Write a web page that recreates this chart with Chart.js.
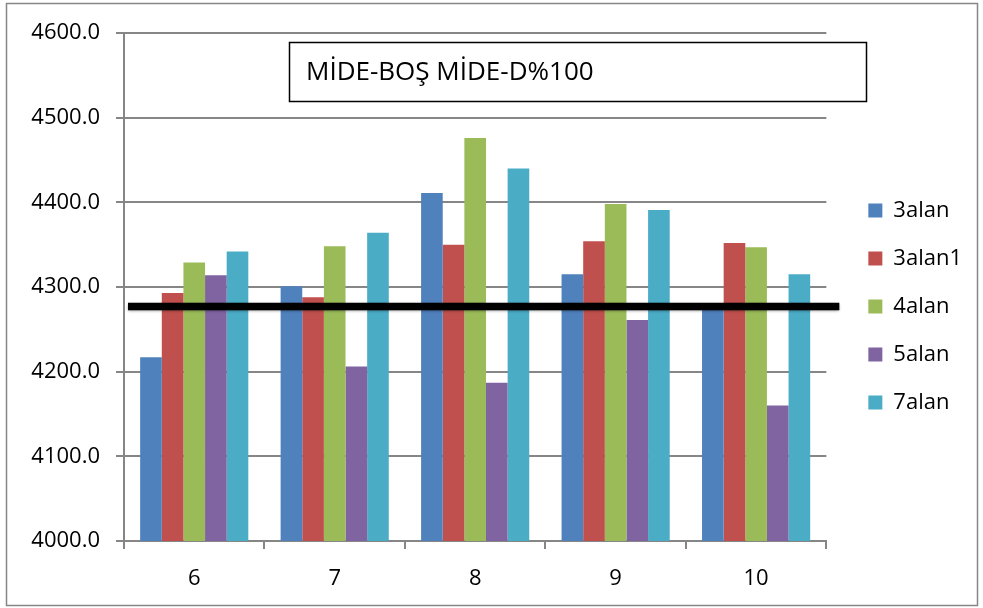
<!DOCTYPE html>
<html>
<head>
<meta charset="utf-8">
<script src="https://cdn.jsdelivr.net/npm/chart.js@4.4.1/dist/chart.umd.min.js"></script>
<style>
  html,body{margin:0;padding:0;background:#fff;}
  #wrap{width:983px;height:608px;position:relative;}
</style>
</head>
<body>
<div id="wrap"><canvas id="myChart" width="983" height="608"></canvas></div>
<script>
var categories = ['6','7','8','9','10'];
var seriesNames = ['3alan','3alan1','4alan','5alan','7alan'];
var alan3  = [4217, 4301, 4411, 4315, 4275];
var alan31 = [4293, 4288, 4350, 4354, 4352];
var alan4  = [4329, 4348, 4476, 4398, 4347];
var alan5  = [4314, 4206, 4187, 4261, 4160];
var alan7  = [4342, 4364, 4440, 4391, 4315];
var refLine = [4277];
var titleText = 'MİDE-BOŞ MİDE-D%100';
var colors = ['#4F81BD','#C0504D','#9BBB59','#8064A2','#4BACC6'];

var FONT = '"Open Sans", "Liberation Sans", sans-serif';

var values = [alan3, alan31, alan4, alan5, alan7];
var datasets = [];
for(var i=0;i<values.length;i++){
    datasets.push({
        label: seriesNames[i],
        data: values[i],
        backgroundColor: colors[i],
        borderWidth: 0,
        categoryPercentage: 0.77,
        barPercentage: 1.0
    });
}

// frame around whole chart, black reference line and the title box
var extras = {
    id: 'extras',
    beforeDraw: function(chart){
        var c = chart.ctx;
        c.save();
        c.fillStyle = '#fff';
        c.fillRect(0,0,chart.width,chart.height);
        c.strokeStyle = '#868686';
        c.lineWidth = 1.5;
        c.strokeRect(6.5,3.5,971,602);
        c.restore();
    },
    afterDatasetsDraw: function(chart){
        var c = chart.ctx;
        var a = chart.chartArea;
        var y = chart.scales.y.getPixelForValue(refLine[0]);
        c.save();
        c.shadowColor = 'rgba(0,0,0,0.5)';
        c.shadowBlur = 3;
        c.shadowOffsetY = 1;
        c.strokeStyle = '#000';
        c.lineWidth = 7.5;
        c.beginPath();
        c.moveTo(a.left+4, y);
        c.lineTo(a.right+13, y);
        c.stroke();
        c.restore();

        c.save();
        c.fillStyle = '#fff';
        c.fillRect(289,42,577,59);
        c.strokeStyle = '#000';
        c.lineWidth = 1.5;
        c.strokeRect(289.5,42.5,577,59);
        c.fillStyle = '#000';
        c.font = '26px ' + FONT;
        c.textBaseline = 'middle';
        c.fillText(titleText, 306, 73);
        c.restore();
    }
};

var ctx = document.getElementById('myChart').getContext('2d');
var myChart = new Chart(ctx, {
    type: 'bar',
    data: { labels: categories, datasets: datasets },
    plugins: [extras],
    options: {
        responsive: false,
        animation: false,
        layout: { padding: { top: 5, left: 0, right: 11, bottom: 0 } },
        plugins: {
            tooltip: { enabled: false },
            legend: {
                position: 'right',
                labels: {
                    boxWidth: 14,
                    boxHeight: 14,
                    padding: 26,
                    color: '#000',
                    font: { family: FONT, size: 22 }
                }
            }
        },
        scales: {
            x: {
                afterFit: function(s){ s.height = 67; },
                grid: { drawOnChartArea: false, drawTicks: true, tickLength: 8, offset: true, color: '#868686', lineWidth: 2 },
                border: { color: '#868686', width: 2 },
                ticks: { color: '#000', font: { family: FONT, size: 22 }, padding: 17 }
            },
            y: {
                min: 4000, max: 4600,
                afterFit: function(s){ s.width = 124; },
                grid: { color: '#868686', lineWidth: 2, tickLength: 8 },
                border: { color: '#868686', width: 2 },
                ticks: {
                    stepSize: 100,
                    color: '#000',
                    font: { family: FONT, size: 22 },
                    padding: 16,
                    callback: function(v){ return Number(v).toFixed(1); }
                }
            },
            // empty spacers: above the plot and between the plot and the legend
            gapTop: {
                type: 'linear',
                position: 'top',
                afterFit: function(s){ s.height = 28; },
                grid: { display: false },
                border: { display: false },
                ticks: { display: false }
            },
            gap: {
                type: 'linear',
                position: 'right',
                afterFit: function(s){ s.width = 16; },
                grid: { display: false },
                border: { display: false },
                ticks: { display: false }
            }
        }
    }
});
</script>
</body>
</html>
